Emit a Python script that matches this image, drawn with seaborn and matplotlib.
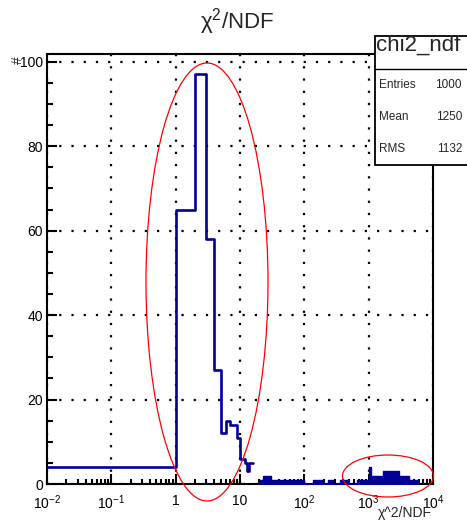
import numpy as np
import matplotlib
matplotlib.use("Agg")
import matplotlib.pyplot as plt
import seaborn as sns
from matplotlib.patches import Ellipse, Rectangle
from matplotlib.lines import Line2D
from matplotlib.ticker import FixedLocator, MultipleLocator, NullFormatter, FixedFormatter

# ---------------- data ----------------
title = "χ$^{2}$/NDF"
x_title = "χ^2/NDF"
y_title = "#"
stats_name = "chi2_ndf"
stats_labels = ["Entries", "Mean", "RMS"]
stats_values = ["1000", "1250", "1132"]

peak_edges = [0.01, 1, 2, 3, 4, 5, 6, 7, 8, 9, 10, 12, 13, 14, 16]
peak_counts = [4, 65, 97, 58, 27, 12, 15, 14, 14, 11, 6, 5, 3, 5]

tail_edges = [20, 23, 30, 100, 137, 196, 234, 281, 360, 480, 650, 1000, 1100, 1700, 3000, 4300, 5900]
tail_counts = [1, 2, 1, 0, 1, 0, 1, 0, 1, 0, 1, 4, 2, 3, 2, 1]

x_ticks = [0.01, 0.1, 1, 10, 100, 1000, 10000]
x_ticklabels = ["$10^{-2}$", "$10^{-1}$", "1", "10", "$10^{2}$", "$10^{3}$", "$10^{4}$"]
x_minor_subs = [2, 3, 4, 5, 6, 7, 8, 9]
y_ticks = [0, 20, 40, 60, 80, 100]
y_max = 101.85

# ---------------- style ----------------
sns.set_style("white")
plt.rcParams["font.family"] = ["Liberation Sans", "DejaVu Sans"]
plt.rcParams["mathtext.fontset"] = "custom"
plt.rcParams["mathtext.rm"] = "Liberation Sans"
plt.rcParams["mathtext.it"] = "Liberation Sans:italic"
plt.rcParams["mathtext.default"] = "regular"

navy = "#000099"
W, H = 467, 520
fig = plt.figure(figsize=(W / 100, H / 100), dpi=100)
fig.patch.set_facecolor("white")
ax = fig.add_axes([47 / W, 1 - 484 / H, 386 / W, 430 / H])


def centers(edges):
    e = np.asarray(edges, dtype=float)
    return np.sqrt(e[:-1] * e[1:])


sns.histplot(x=centers(peak_edges), weights=peak_counts, bins=peak_edges,
             element="step", fill=False, color=navy, linewidth=1.9, ax=ax, zorder=3)
sns.histplot(x=centers(tail_edges), weights=tail_counts, bins=tail_edges,
             element="step", fill=True, alpha=1, color=navy, edgecolor=navy,
             linewidth=1.0, ax=ax, zorder=3)

ax.set_xscale("log")
ax.set_xlim(0.01, 10000)
ax.set_ylim(0, y_max)
ax.set_xlabel("")
ax.set_ylabel("")

minor_x = [d * s for d in x_ticks[:-1] for s in x_minor_subs]
ax.xaxis.set_major_locator(FixedLocator(x_ticks))
ax.xaxis.set_major_formatter(FixedFormatter(x_ticklabels))
ax.xaxis.set_minor_locator(FixedLocator(minor_x))
ax.xaxis.set_minor_formatter(NullFormatter())
ax.yaxis.set_major_locator(FixedLocator(y_ticks))
ax.yaxis.set_minor_locator(MultipleLocator(5))

ax.tick_params(axis="both", which="both", direction="in", bottom=True, left=True,
               top=False, right=False, colors="black", labelsize=10, width=1.5)
ax.tick_params(axis="x", which="major", length=7.5, pad=7)
ax.tick_params(axis="x", which="minor", length=3.75)
ax.tick_params(axis="y", which="major", length=7.5, pad=3)
ax.tick_params(axis="y", which="minor", length=4)

ax.grid(True, which="major", color="black", linestyle=(0, (1, 4.5)), linewidth=1.6)
ax.set_axisbelow(True)
for s in ax.spines.values():
    s.set_visible(True)
    s.set_color("black")
    s.set_linewidth(1.5)


def fx(x):
    return x / W


def fy(y):
    return 1 - y / H


# titles
fig.text(fx(237), fy(22), title, ha="center", va="center", fontsize=16)
fig.text(fx(432), fy(513), x_title, ha="right", va="center", fontsize=10)
fig.text(fx(18), fy(60), y_title, ha="center", va="center", fontsize=10, rotation=90)

# stats box
box = Rectangle((fx(375), fy(165)), fx(475) - fx(375), fy(36) - fy(165),
                transform=fig.transFigure, facecolor="white", edgecolor="black",
                linewidth=1.3, zorder=10)
fig.add_artist(box)
fig.add_artist(Line2D([fx(375), fx(475)], [fy(69), fy(69)], transform=fig.transFigure,
                      color="black", linewidth=1.0, zorder=11))
fig.text(fx(376), fy(45), stats_name, ha="left", va="center", fontsize=16, zorder=12)
row_y = [85, 117, 149]
for lab, val, yy in zip(stats_labels, stats_values, row_y):
    fig.text(fx(379), fy(yy), lab, ha="left", va="center", fontsize=8.5, zorder=12)
    fig.text(fx(462), fy(yy), val, ha="right", va="center", fontsize=8.5, zorder=12)

# red annotation ellipses
e1 = Ellipse((fx(207), fy(282)), fx(122), 219 * 2 / H, transform=fig.transFigure,
             fill=False, edgecolor="red", linewidth=0.9, zorder=13)
e2 = Ellipse((fx(388), fy(476)), fx(91), 42 / H, transform=fig.transFigure,
             fill=False, edgecolor="red", linewidth=0.9, zorder=13)
fig.add_artist(e1)
fig.add_artist(e2)

fig.savefig("out.png", dpi=100)
